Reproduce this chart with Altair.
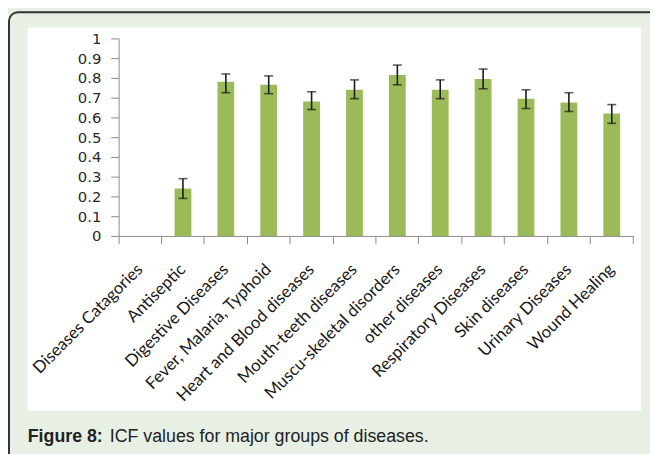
import altair as alt
import pandas as pd

categories = ["Diseases Catagories", "Antiseptic", "Digestive Diseases",
              "Fever, Malaria, Typhoid", "Heart and Blood diseases",
              "Mouth-teeth diseases", "Muscu-skeletal disorders", "other diseases",
              "Respiratory Diseases", "Skin diseases", "Urinary Diseases", "Wound Healing"]
icf = [None, 0.24, 0.78, 0.765, 0.68, 0.74, 0.815, 0.74, 0.795, 0.695, 0.675, 0.62]
err_low = [None, 0.19, 0.725, 0.72, 0.64, 0.695, 0.765, 0.695, 0.745, 0.645, 0.63, 0.57]
err_high = [None, 0.29, 0.82, 0.81, 0.73, 0.79, 0.865, 0.79, 0.845, 0.74, 0.725, 0.665]
y_ticks = [0, 0.1, 0.2, 0.3, 0.4, 0.5, 0.6, 0.7, 0.8, 0.9, 1]
caption_bold = "Figure 8:"
caption_rest = "ICF values for major groups of diseases."

df = pd.DataFrame({"cat": categories, "icf": icf, "lo": err_low, "hi": err_high})

W, H = 521, 200

xscale = alt.Scale(domain=categories, paddingInner=0, paddingOuter=0)
xaxis = alt.Axis(bandPosition=0, labelAngle=-45,
                 labelAlign="right", labelBaseline="middle",
                 labelFont="Lato", labelFontSize=17, labelColor="#1a1a1a",
                 labelPadding=23, tickSize=8, tickColor="#8a8a8a",
                 domainColor="#8a8a8a", labelOverlap=False, labelLimit=300,
                 zindex=1)
yscale = alt.Scale(domain=[0, 1], nice=False, zero=True)
yaxis = alt.Axis(values=y_ticks, format=".1~f", grid=False, tickSize=8,
                 tickColor="#8a8a8a", domainColor="#8a8a8a",
                 labelFont="DejaVu Sans", labelFontSize=15, labelColor="#2a2a2a",
                 labelPadding=10, labelOverlap=False, zindex=1)


def xenc():
    return alt.X("cat:N", scale=xscale, sort=None, title=None, axis=xaxis)


def yenc(field):
    return alt.Y(field, scale=yscale, axis=yaxis, title=None)


base = alt.Chart(df)

# decorative frame layers
one = alt.Data(values=[{"k": 1}])
bg_panel = alt.Chart(one).mark_rect(fill="white").encode(
    x=alt.value(28 - 120), x2=alt.value(649 - 120),
    y=alt.value(25 - 36), y2=alt.value(413 - 36))
frame = alt.Chart(one).mark_rect(fill=None, stroke="#333333", strokeWidth=2,
                                 cornerRadius=9).encode(
    x=alt.value(9 - 120), x2=alt.value(700 - 120),
    y=alt.value(9.5 - 36), y2=alt.value(500 - 36))
cap1 = alt.Chart(alt.Data(values=[{"t": caption_bold}])).mark_text(
    align="left", baseline="alphabetic", font="Liberation Sans", fontSize=18,
    fontWeight="bold", color="#222222").encode(
    text="t:N", x=alt.value(28 - 120), y=alt.value(445 - 36))
cap2 = alt.Chart(alt.Data(values=[{"t": caption_rest}])).mark_text(
    align="left", baseline="alphabetic", font="Liberation Sans", fontSize=18,
    color="#222222").encode(
    text="t:N", x=alt.value(111 - 120), y=alt.value(445 - 36))
end_tick = alt.Chart(one).mark_rule(color="#8a8a8a").encode(
    x=alt.value(W), y=alt.value(H), y2=alt.value(H + 8))

bars = base.mark_bar(width=17, color="#9bbb59").encode(x=xenc(), y=yenc("icf:Q"))
err = base.mark_rule(color="#1a1a1a", strokeWidth=1.6).encode(
    x=xenc(), y=yenc("lo:Q"), y2="hi:Q")
cap_lo = base.mark_tick(orient="horizontal", size=9, thickness=1.6, color="#1a1a1a").encode(
    x=xenc(), y=yenc("lo:Q"))
cap_hi = base.mark_tick(orient="horizontal", size=9, thickness=1.6, color="#1a1a1a").encode(
    x=xenc(), y=yenc("hi:Q"))

chart = alt.layer(bg_panel, frame, cap1, cap2, bars, err, cap_lo, cap_hi, end_tick).properties(
    width=W, height=H,
    autosize=alt.AutoSizeParams(type="none"),
    padding={"left": 112, "top": 28, "right": 17, "bottom": 218},
    background="#e8f0e5",
).configure_view(stroke=None)

chart.save("out.html", embed_options={"renderer": "svg", "actions": False})
